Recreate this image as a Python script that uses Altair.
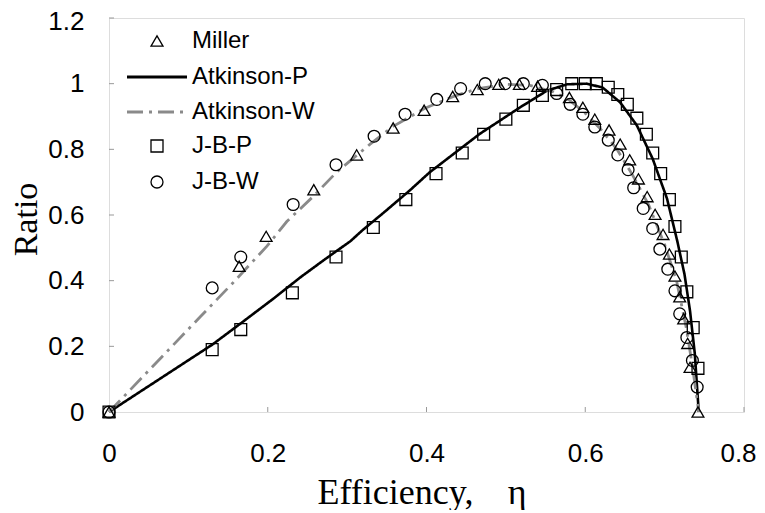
import altair as alt
import pandas as pd

# ---- data ----
miller_x = [0, 0.164, 0.198, 0.258, 0.312, 0.358, 0.397, 0.433, 0.464, 0.491, 0.517, 0.540,
            0.580, 0.597, 0.612, 0.630, 0.644, 0.656, 0.667, 0.678, 0.688, 0.698, 0.706,
            0.713, 0.719, 0.724, 0.729, 0.732, 0.742]
miller_y = [0, 0.444, 0.535, 0.677, 0.783, 0.865, 0.919, 0.961, 0.982, 0.998, 0.998, 0.992,
            0.958, 0.928, 0.892, 0.859, 0.816, 0.768, 0.710, 0.656, 0.602, 0.541, 0.481,
            0.414, 0.351, 0.284, 0.209, 0.136, 0]

jbp_x = [0, 0.130, 0.166, 0.231, 0.286, 0.333, 0.374, 0.412, 0.445, 0.472, 0.500, 0.522,
         0.546, 0.564, 0.583, 0.600, 0.614, 0.629, 0.641, 0.653, 0.665, 0.677, 0.685,
         0.695, 0.706, 0.713, 0.721, 0.728, 0.736, 0.742]
jbp_y = [0, 0.190, 0.251, 0.363, 0.472, 0.562, 0.647, 0.726, 0.789, 0.846, 0.892, 0.934,
         0.964, 0.982, 1.0, 1.0, 1.0, 0.989, 0.967, 0.937, 0.895, 0.846, 0.789,
         0.726, 0.647, 0.565, 0.472, 0.366, 0.257, 0.133]

jbw_x = [0, 0.130, 0.166, 0.232, 0.286, 0.334, 0.373, 0.413, 0.443, 0.474, 0.499, 0.522,
         0.546, 0.564, 0.581, 0.597, 0.612, 0.629, 0.641, 0.654, 0.661, 0.673, 0.685,
         0.694, 0.704, 0.713, 0.719, 0.728, 0.735, 0.741]
jbw_y = [0, 0.378, 0.472, 0.632, 0.753, 0.840, 0.907, 0.952, 0.985, 1.0, 1.0, 1.0,
         0.995, 0.970, 0.937, 0.907, 0.868, 0.828, 0.783, 0.738, 0.683, 0.620, 0.559,
         0.496, 0.435, 0.369, 0.299, 0.227, 0.157, 0.076]

atkp_x = [0, 0.130, 0.166, 0.207, 0.241, 0.272, 0.304, 0.320, 0.345, 0.379, 0.404, 0.467,
          0.518, 0.552, 0.577, 0.602, 0.622, 0.644, 0.665, 0.685, 0.703, 0.716, 0.725,
          0.732, 0.738, 0.743]
atkp_y = [0, 0.205, 0.270, 0.345, 0.410, 0.465, 0.520, 0.555, 0.605, 0.675, 0.730, 0.847,
          0.928, 0.979, 0.998, 1.0, 0.988, 0.943, 0.873, 0.771, 0.650, 0.520, 0.420,
          0.308, 0.178, 0]

atkw_x = [0, 0.115, 0.156, 0.174, 0.199, 0.224, 0.257, 0.287, 0.329, 0.358, 0.398, 0.435,
          0.465, 0.500, 0.530, 0.560, 0.580, 0.600, 0.620, 0.640, 0.660, 0.680, 0.700,
          0.715, 0.727, 0.735, 0.743]
atkw_y = [0, 0.290, 0.393, 0.440, 0.505, 0.580, 0.656, 0.731, 0.816, 0.870, 0.925, 0.962,
          0.985, 0.998, 0.995, 0.975, 0.950, 0.910, 0.860, 0.800, 0.720, 0.630, 0.510,
          0.400, 0.260, 0.140, 0]

x_ticks = [0, 0.2, 0.4, 0.6, 0.8]
y_ticks = [0, 0.2, 0.4, 0.6, 0.8, 1.0, 1.2]

# ---- tables ----
miller_df = pd.DataFrame({"x": miller_x, "y": miller_y, "s": "Miller"})
jb_df = pd.concat([
    pd.DataFrame({"x": jbp_x, "y": jbp_y, "s": "J-B-P"}),
    pd.DataFrame({"x": jbw_x, "y": jbw_y, "s": "J-B-W"}),
], ignore_index=True)
atkp_df = pd.DataFrame({"x": atkp_x, "y": atkp_y, "s": "Atkinson-P", "o": range(len(atkp_x))})
atkw_df = pd.DataFrame({"x": atkw_x, "y": atkw_y, "s": "Atkinson-W", "o": range(len(atkw_x))})

TOP = 10
W, H = 635, 404 - TOP
xs = alt.Scale(domain=[0, 0.8], nice=False, zero=False)
ys = alt.Scale(domain=[0, 1.2], nice=False, zero=False)

AXFONT = "Liberation Sans"
TFONT = "Liberation Serif"
LINE = "M-5,0H5"
WDASH = [16, 6, 3, 6]
LEG_X = 36
LAB_OFF = 23
LAB_SIZE = 24

x_axis = alt.Axis(values=x_ticks, format="~g", ticks=False, domain=False, grid=False,
                  labelFlush=False, labelFont=AXFONT, labelFontSize=26, labelColor="#000",
                  labelPadding=28,
                  labelOffset={"condition": {"test": "datum.value >= 0.79", "value": -6},
                               "value": 0},
                  title="Efficiency,\u00a0\u00a0\u00a0\u2009\u03b7", titleFont=TFONT,
                  titleFontSize=36, titleFontWeight="normal", titleColor="#000",
                  titleAlign="left", titleX=208, titleY=91, titleBaseline="alphabetic")
y_axis = alt.Axis(values=y_ticks, format="~g", ticks=False, domain=False, grid=False,
                  labelFlush=False, labelFont=AXFONT, labelFontSize=26, labelColor="#000",
                  labelPadding=25,
                  labelOffset={"condition": {"test": "datum.value >= 1.19", "value": 3},
                               "value": 0},
                  title="Ratio", titleFont=TFONT, titleFontSize=34,
                  titleFontWeight="normal", titleColor="#000", titleAngle=-90,
                  titleX=-73, titleY=H / 2 + 4, titleAlign="center", titleBaseline="alphabetic")


def make_legend(y, stype=None, color="#000", sw=1.3, dash=None):
    kw = dict(title=None, orient="none", legendX=LEG_X, legendY=y - (TOP - 7), padding=0,
              symbolSize=144, symbolStrokeColor=color,
              symbolStrokeWidth=sw, labelFont=AXFONT, labelFontSize=LAB_SIZE,
              labelColor="#000", labelOffset=LAB_OFF, rowPadding=12)
    if stype is not None:
        kw["symbolType"] = stype
    if dash is not None:
        kw["symbolDash"] = dash
    return alt.Legend(**kw)


line_p = alt.Chart(atkp_df).mark_line(strokeWidth=2.6, color="#000").encode(
    x=alt.X("x:Q", scale=xs, axis=x_axis),
    y=alt.Y("y:Q", scale=ys, axis=y_axis),
    strokeDash=alt.StrokeDash("s:N", scale=alt.Scale(domain=["Atkinson-P"], range=[[1, 0]]),
                              legend=make_legend(50, LINE, sw=3, dash=[1, 0])),
    order="o:Q",
)
line_w = alt.Chart(atkw_df).mark_line(strokeWidth=2.8, color="#8a8a8a").encode(
    x=alt.X("x:Q", scale=xs),
    y=alt.Y("y:Q", scale=ys),
    strokeDash=alt.StrokeDash("s:N", scale=alt.Scale(domain=["Atkinson-W"], range=[WDASH]),
                              legend=make_legend(85, LINE, color="#8a8a8a", sw=3, dash=WDASH)),
    order="o:Q",
)
pts_m = alt.Chart(miller_df).mark_point(filled=False, size=140, strokeWidth=1.3,
                                         color="#000", opacity=1).encode(
    x=alt.X("x:Q", scale=xs),
    y=alt.Y("y:Q", scale=ys),
    shape=alt.Shape("s:N", scale=alt.Scale(domain=["Miller"], range=["triangle-up"]),
                    legend=make_legend(14, "triangle-up")),
)
pts_jb = alt.Chart(jb_df).mark_point(filled=False, size=140, strokeWidth=1.3,
                                      color="#000", opacity=1).encode(
    x=alt.X("x:Q", scale=xs),
    y=alt.Y("y:Q", scale=ys),
    shape=alt.Shape("s:N", scale=alt.Scale(domain=["J-B-P", "J-B-W"], range=["square", "circle"]),
                    legend=make_legend(119)),
)

ytick_layer = alt.Chart(pd.DataFrame({"v": y_ticks})).mark_rule(color="#999", strokeWidth=1).encode(
    y=alt.Y("v:Q", scale=ys), x=alt.value(0), x2=alt.value(5))
xtick_layer = alt.Chart(pd.DataFrame({"v": x_ticks})).mark_rule(color="#999", strokeWidth=1).encode(
    x=alt.X("v:Q", scale=xs), y=alt.value(H), y2=alt.value(H - 5))

chart = alt.layer(line_p, line_w, ytick_layer, xtick_layer, pts_m, pts_jb).resolve_scale(
    shape="independent", strokeDash="independent"
).properties(
    width=W, height=H,
    autosize=alt.AutoSizeParams(type="none"),
    padding={"left": 101, "top": TOP, "right": 13, "bottom": 98},
).configure_view(stroke="#999", strokeWidth=1).configure(background="white")

chart.save("out.html", embed_options={"renderer": "svg", "actions": False})
